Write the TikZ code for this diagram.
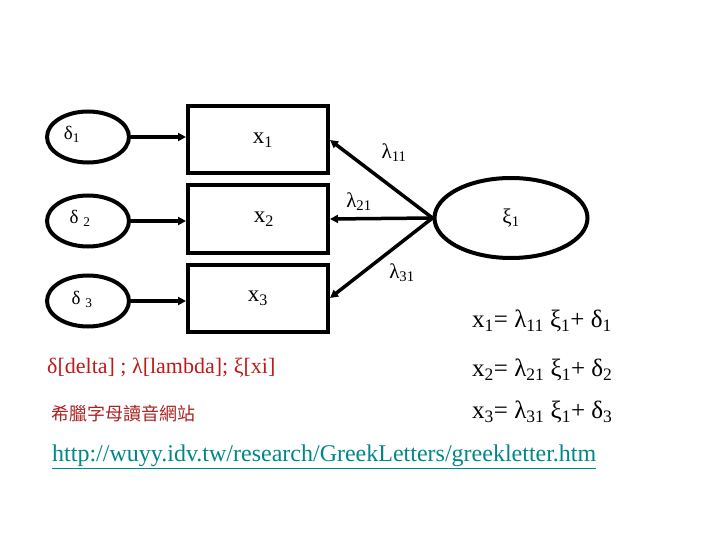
\documentclass[tikz,border=0pt]{standalone}
\usepackage{fontspec}
\setmainfont{Liberation Serif}
\newfontfamily\cjk{Noto Sans CJK TC}
\usetikzlibrary{arrows.meta,shapes.geometric}
\definecolor{lblred}{RGB}{190,25,25}
\definecolor{cjkred}{RGB}{170,35,35}
\definecolor{linkteal}{RGB}{0,135,135}
\tikzset{
  >={Triangle[length=8pt,width=8pt]},
  err/.style ={draw, line width=4pt, ellipse, minimum width=82pt, minimum height=51pt},
  lat/.style ={draw, line width=4pt, ellipse, minimum width=153pt, minimum height=80pt, font=\fontsize{21}{22}\selectfont},
  obs/.style ={draw, line width=4pt, minimum width=140pt, minimum height=67pt, font=\fontsize{23}{24}\selectfont},
  arr/.style ={->, line width=3.5pt},
  lbl/.style ={inner sep=0pt, font=\fontsize{19}{20}\selectfont},
  lam/.style ={inner sep=0pt, font=\fontsize{21}{22}\selectfont},
  eq/.style  ={inner sep=0pt, anchor=west, font=\fontsize{25}{26}\selectfont},
}
\newcommand{\lo}[1]{\textsubscript{#1}}
\begin{document}
\begin{tikzpicture}[x=1pt,y=-1pt]
  \useasboundingbox (0,0) rectangle (720,540);

  % error terms
  \node[err] (d1) at (88,137) {};
  \node[err] (d2) at (88,221) {};
  \node[err] (d3) at (88,301) {};
  \node[lbl] (d1t) at (72,134) {δ\lo{1}};
  \node[lbl] (d2t) at (80,218) {δ \lo{2}};
  \node[lbl] (d3t) at (82,299) {δ \lo{3}};

  % observed variables
  \node[obs] (x1) at (258,140) {\hspace{10pt}x\lo{1}};
  \node[obs] (x2) at (258,219) {\hspace{12pt}x\lo{2}};
  \node[obs] (x3) at (258,298) {x\lo{3}};

  % latent variable
  \node[lat] (xi) at (511,218) {ξ\lo{1}};

  \draw[arr] (d1) -- (d1 -| x1.west);
  \draw[arr] (d2) -- (d2 -| x2.west);
  \draw[arr] (d3) -- (d3 -| x3.west);
  \draw[arr] (xi.west) -- (x1.east);
  \draw[arr] (xi.west) -- (x2.east);
  \draw[arr] (xi.west) -- (x3.east);

  \node[lam] (l11) at (394,153) {λ\lo{11}};
  \node[lam] (l21) at (359,202) {λ\lo{21}};
  \node[lam] (l31) at (402,273) {λ\lo{31}};

  % equations
  \node[eq] (e1) at (472,321) {x\lo{1}= λ\lo{11} ξ\lo{1}+ δ\lo{1}};
  \node[eq] (e2) at (472,370) {x\lo{2}= λ\lo{21} ξ\lo{1}+ δ\lo{2}};
  \node[eq] (e3) at (472,412) {x\lo{3}= λ\lo{31} ξ\lo{1}+ δ\lo{3}};

  % notes
  \node[eq, text=lblred, font=\fontsize{22}{24}\selectfont] (gk) at (47,368) {δ[delta] ; λ[lambda]; ξ[xi]};
  \node[eq, text=cjkred, font=\cjk\fontsize{18}{20}\selectfont] (zh) at (51,414) {希臘字母讀音網站};
  \node[eq, text=linkteal, font=\fontsize{24}{26}\selectfont] (url) at (52,457) {\underline{http://wuyy.idv.tw/research/GreekLetters/greekletter.htm}};
\end{tikzpicture}
\end{document}
